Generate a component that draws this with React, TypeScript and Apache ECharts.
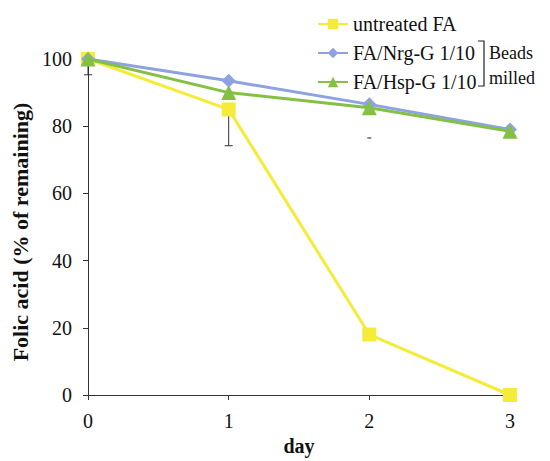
import React, { useEffect, useRef } from "react";
import * as echarts from "echarts";

const days = [0, 1, 2, 3];
const untreated = [100, 85, 18, 0];
const nrg = [100, 93.5, 86.5, 79];
const hsp = [100, 90, 85.5, 78.5];
const errorBars = [
  [0, 95.3, 100],
  [1, 74.2, 85],
];
const faintCaps = [[2, 76.5]];
const seriesNames = ["untreated FA", "FA/Nrg-G 1/10", "FA/Hsp-G 1/10"];
const colors = ["#f4ec38", "#8ea2e2", "#84c044"];

const FONT = "'Liberation Serif', 'Times New Roman', serif";

export default function App() {
  const ref = useRef<HTMLDivElement>(null);
  useEffect(() => {
    document.body.style.margin = "0";
    const chart = echarts.init(ref.current!, null, { renderer: "svg" });
    const pair = (arr: number[]) => days.map((d, i) => [d, arr[i]]);
    chart.setOption({
      animation: false,
      backgroundColor: "#ffffff",
      textStyle: { fontFamily: FONT },
      grid: { left: 88, right: 40, top: 59, bottom: 66, outerBoundsMode: "none", containLabel: false },
      legend: {
        orient: "vertical",
        left: 312,
        top: 9,
        itemWidth: 30,
        itemHeight: 13,
        itemGap: 9,
        data: seriesNames,
        textStyle: { fontFamily: FONT, fontSize: 20, color: "#111" },
      },
      xAxis: {
        type: "value",
        min: 0,
        max: 3,
        interval: 1,
        name: "day",
        nameLocation: "middle",
        nameGap: 41,
        nameTextStyle: { fontFamily: FONT, fontSize: 20, fontWeight: "bold", color: "#111" },
        splitLine: { show: false },
        axisLine: { lineStyle: { color: "#333", width: 1 } },
        axisTick: { show: true, length: 5, lineStyle: { color: "#333" } },
        axisLabel: { fontFamily: FONT, fontSize: 20, color: "#111", margin: 16 },
      },
      yAxis: {
        type: "value",
        min: 0,
        max: 100,
        interval: 20,
        name: "Folic acid (% of remaining)",
        nameLocation: "middle",
        nameGap: 54,
        nameTextStyle: {
          fontFamily: FONT,
          fontSize: 22,
          fontWeight: "bold",
          color: "#111",
          padding: [0, 10, 0, 0],
        },
        splitLine: { show: false },
        axisLine: { show: true, lineStyle: { color: "#333", width: 1 } },
        axisTick: { show: true, length: 5, lineStyle: { color: "#333" } },
        axisLabel: { fontFamily: FONT, fontSize: 20, color: "#111", margin: 16 },
      },
      series: [
        {
          type: "custom",
          name: "err",
          z: 1,
          renderItem: (params: any, api: any) => {
            const x = api.value(0);
            const lo = api.coord([x, api.value(1)]);
            const hi = api.coord([x, api.value(2)]);
            return {
              type: "group",
              children: [
                { type: "line", shape: { x1: lo[0], y1: lo[1], x2: hi[0], y2: hi[1] }, style: { stroke: "#333", lineWidth: 1 } },
                { type: "line", shape: { x1: lo[0] - 4, y1: lo[1], x2: lo[0] + 4, y2: lo[1] }, style: { stroke: "#333", lineWidth: 1 } },
              ],
            };
          },
          data: errorBars,
          silent: true,
        },
        {
          type: "custom",
          name: "cap",
          z: 1,
          renderItem: (params: any, api: any) => {
            const p = api.coord([api.value(0), api.value(1)]);
            return {
              type: "line",
              shape: { x1: p[0] - 2, y1: p[1], x2: p[0] + 2, y2: p[1] },
              style: { stroke: "#666", lineWidth: 1.5 },
            };
          },
          data: faintCaps,
          silent: true,
        },
        {
          type: "line",
          name: seriesNames[0],
          data: pair(untreated),
          symbol: "rect",
          symbolSize: 14,
          clip: false,
          color: colors[0],
          lineStyle: { width: 3, color: colors[0] },
          itemStyle: { color: colors[0] },
          z: 2,
        },
        {
          type: "line",
          name: seriesNames[1],
          data: pair(nrg),
          symbol: "diamond",
          symbolSize: 14,
          clip: false,
          color: colors[1],
          lineStyle: { width: 3, color: colors[1] },
          itemStyle: { color: colors[1] },
          z: 3,
        },
        {
          type: "line",
          name: seriesNames[2],
          data: pair(hsp),
          symbol: "triangle",
          symbolSize: 15,
          clip: false,
          color: colors[2],
          lineStyle: { width: 3, color: colors[2] },
          itemStyle: { color: colors[2] },
          z: 4,
        },
      ],
      graphic: [
        {
          type: "polyline",
          shape: { points: [[478, 41], [484, 41], [484, 86], [478, 86]] },
          style: { stroke: "#222", lineWidth: 1.2, fill: "none" },
        },
        {
          type: "text",
          x: 489,
          y: 53,
          style: { text: "Beads", fontFamily: FONT, fontSize: 18, fill: "#111", verticalAlign: "middle" },
        },
        {
          type: "text",
          x: 489,
          y: 78,
          style: { text: "milled", fontFamily: FONT, fontSize: 18, fill: "#111", verticalAlign: "middle" },
        },
      ],
    });
    return () => chart.dispose();
  }, []);
  return <div ref={ref} style={{ width: 550, height: 461 }} />;
}
